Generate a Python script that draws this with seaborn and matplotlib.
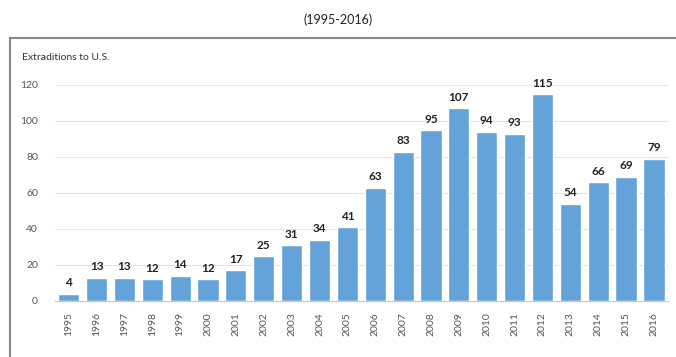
import matplotlib
matplotlib.use("Agg")
import matplotlib.pyplot as plt
import seaborn as sns
import pandas as pd
from matplotlib.patches import Rectangle

years = [str(y) for y in range(1995, 2017)]
extraditions = [4, 13, 13, 12, 14, 12, 17, 25, 31, 34, 41, 63, 83, 95, 107, 94, 93, 115, 54, 66, 69, 79]
yticks = [0, 20, 40, 60, 80, 100, 120]

sns.set_theme(style="white")
plt.rcParams['font.family'] = ['Lato', 'DejaVu Sans']

df = pd.DataFrame({"year": years, "count": extraditions})

fig = plt.figure(figsize=(6.76, 3.57), dpi=100)
ax = fig.add_axes([0.081, 0.157, 0.907, 0.605])

sns.barplot(data=df, x="year", y="count", color="#64a3d9", saturation=1, width=0.76, ax=ax)

ax.set_ylim(0, 120)
ax.set_yticks(yticks)
ax.set_yticklabels([str(t) for t in yticks], fontsize=7.5, color="#555555")
ax.tick_params(axis="x", rotation=90, labelsize=7.5, labelcolor="#555555", length=0, pad=8)
ax.tick_params(axis="y", length=0, pad=12)
ax.set_xlabel("")
ax.set_ylabel("")
ax.grid(axis="y", color="#e3e3e3", linewidth=0.8)
ax.set_axisbelow(True)
for s in ["left", "right", "top"]:
    ax.spines[s].set_visible(False)
ax.spines["bottom"].set_color("#c8c8c8")
ax.spines["bottom"].set_linewidth(0.8)

for i, v in enumerate(extraditions):
    ax.text(i, v + 3, str(v), ha="center", va="bottom", fontsize=8.5, fontweight="bold",
            color="#222222", clip_on=False)

fig.add_artist(Rectangle((10 / 676, -0.05), 1.2, 1 - 38 / 357 + 0.05, transform=fig.transFigure,
                         fill=False, edgecolor="#888888", linewidth=1.5))
fig.text(0.5, 1 - 20 / 357, "(1995-2016)", ha="center", va="center", fontsize=9, color="#222222")
fig.text(22 / 676, 1 - 58 / 357, "Extraditions to U.S.", ha="left", va="center", fontsize=7.5, color="#333333")

fig.savefig("out.png", dpi=100)
